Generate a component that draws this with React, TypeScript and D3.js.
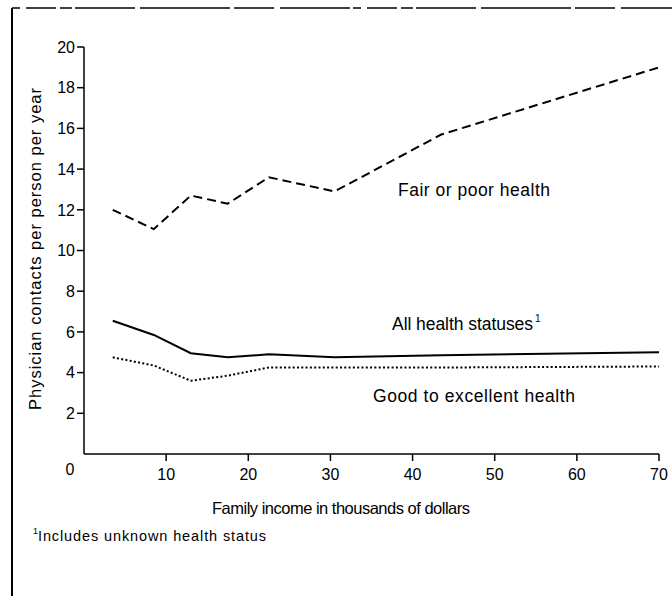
import React from "react";
import * as d3 from "d3";

const income = [3.5, 8.5, 13, 17.5, 22.5, 30.5, 43.5, 70];
const fairPoor = [12.0, 11.05, 12.7, 12.3, 13.6, 12.9, 15.7, 19.0];
const allStatuses = [6.55, 5.85, 4.95, 4.75, 4.9, 4.75, 4.85, 5.0];
const goodExcellent = [4.75, 4.35, 3.6, 3.85, 4.25, 4.25, 4.25, 4.3];
const xTicks = [10, 20, 30, 40, 50, 60, 70];
const yTicks = [2, 4, 6, 8, 10, 12, 14, 16, 18, 20];

const FONT = "'Liberation Sans', Arial, Helvetica, sans-serif";

export default function App() {
  const W = 672, H = 596;
  const x = d3.scaleLinear().domain([0, 70]).range([84, 659]);
  const y = d3.scaleLinear().domain([0, 20]).range([454, 47]);
  const line = d3
    .line<[number, number]>()
    .x((d) => x(d[0]))
    .y((d) => y(d[1]));
  const series = [
    { vals: fairPoor, dash: "9,5" },
    { vals: allStatuses, dash: "none" },
    { vals: goodExcellent, dash: "2,2.3" },
  ];
  return (
    <svg
      width={W}
      height={H}
      style={{ position: "absolute", left: 0, top: 0, background: "#fff" }}
      fontFamily={FONT}
    >
      {/* frame */}
      <line x1={12} y1={8} x2={12} y2={H} stroke="#000" strokeWidth={2} />
      <line x1={12} y1={8} x2={W} y2={8} stroke="#000" strokeWidth={1.5} strokeDasharray="8,6,30,4,12,3,60,5,90,4,40,6,70,3" />

      {/* axes */}
      <line x1={x(0)} y1={y(20)} x2={x(0)} y2={y(0)} stroke="#000" strokeWidth={1.5} />
      <line x1={x(0)} y1={y(0)} x2={x(70)} y2={y(0)} stroke="#000" strokeWidth={1.5} />
      {yTicks.map((t) => (
        <g key={"y" + t}>
          <line x1={x(0) - 7} x2={x(0)} y1={y(t)} y2={y(t)} stroke="#000" strokeWidth={1.5} />
          <text x={x(0) - 9} y={y(t)} dy="0.36em" textAnchor="end" fontSize={16}>
            {t}
          </text>
        </g>
      ))}
      {xTicks.map((t) => (
        <g key={"x" + t}>
          <line x1={x(t)} x2={x(t)} y1={y(0)} y2={y(0) + 7} stroke="#000" strokeWidth={1.5} />
          <text x={x(t)} y={480} textAnchor="middle" fontSize={16}>
            {t}
          </text>
        </g>
      ))}
      <text x={70} y={475} textAnchor="middle" fontSize={16}>
        0
      </text>

      {/* series */}
      {series.map((s, i) => (
        <path
          key={i}
          d={line(income.map((v, j) => [v, s.vals[j]]))!}
          fill="none"
          stroke="#000"
          strokeWidth={2}
          strokeDasharray={s.dash}
        />
      ))}

      {/* labels */}
      <text x={398} y={196} fontSize={17.5} textLength={152} lengthAdjust="spacing">
        Fair or poor health
      </text>
      <text x={392} y={330} fontSize={17.5} textLength={141} lengthAdjust="spacing">
        All health statuses
      </text>
      <text x={535} y={322} fontSize={10}>
        1
      </text>
      <text x={373} y={402} fontSize={17.5} textLength={202} lengthAdjust="spacing">
        Good to excellent health
      </text>

      <text x={212} y={514} fontSize={16.5} textLength={258} lengthAdjust="spacing">
        Family income in thousands of dollars
      </text>
      <text
        transform={`translate(41,${249}) rotate(-90)`}
        textAnchor="middle"
        fontSize={16.5}
        textLength={322}
        lengthAdjust="spacing"
      >
        Physician contacts per person per year
      </text>

      <text x={33} y={534} fontSize={9}>
        1
      </text>
      <text x={38} y={541} fontSize={14.5} textLength={228} lengthAdjust="spacing">
        Includes unknown health status
      </text>
    </svg>
  );
}
